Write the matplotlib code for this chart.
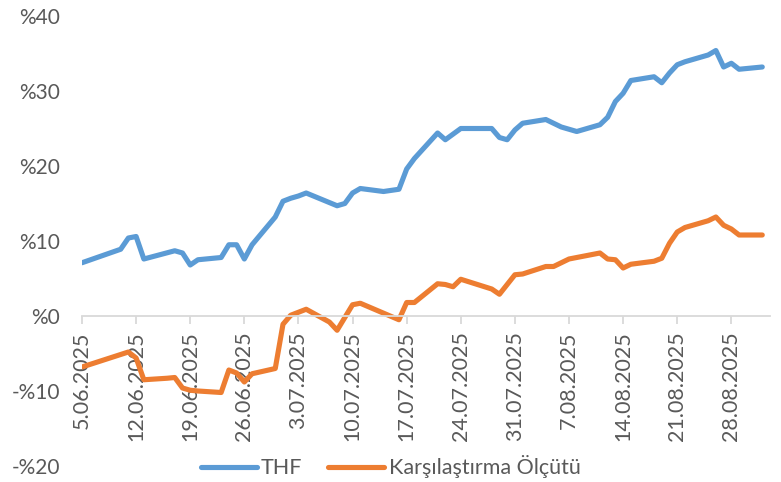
import matplotlib
matplotlib.use("Agg")
import matplotlib.pyplot as plt
import pandas as pd

# THF fund vs benchmark, cumulative return (%)
thf_dates = ["2025-06-05", "2025-06-10", "2025-06-11", "2025-06-12", "2025-06-13",
             "2025-06-17", "2025-06-18", "2025-06-19", "2025-06-20", "2025-06-23",
             "2025-06-24", "2025-06-25", "2025-06-26", "2025-06-27", "2025-06-30",
             "2025-07-01", "2025-07-02", "2025-07-03", "2025-07-04", "2025-07-08",
             "2025-07-09", "2025-07-10", "2025-07-11", "2025-07-14", "2025-07-16",
             "2025-07-17", "2025-07-18", "2025-07-21", "2025-07-22", "2025-07-24",
             "2025-07-28", "2025-07-29", "2025-07-30", "2025-07-31", "2025-08-01",
             "2025-08-04", "2025-08-06", "2025-08-08", "2025-08-11", "2025-08-12",
             "2025-08-13", "2025-08-14", "2025-08-15", "2025-08-18", "2025-08-19",
             "2025-08-20", "2025-08-21", "2025-08-22", "2025-08-25", "2025-08-26",
             "2025-08-27", "2025-08-28", "2025-08-29", "2025-09-01"]
thf_values = [7.1, 8.9, 10.4, 10.6, 7.6,
              8.7, 8.4, 6.8, 7.5, 7.8,
              9.5, 9.5, 7.6, 9.5, 13.2,
              15.3, 15.7, 16.0, 16.4, 14.7,
              15.0, 16.4, 17.0, 16.6, 16.9,
              19.6, 21.0, 24.4, 23.5, 25.0,
              25.0, 23.8, 23.5, 24.8, 25.7,
              26.2, 25.2, 24.6, 25.5, 26.5,
              28.6, 29.7, 31.4, 31.9, 31.1,
              32.4, 33.5, 33.9, 34.8, 35.4,
              33.2, 33.7, 32.9, 33.2]

bench_dates = ["2025-06-05", "2025-06-11", "2025-06-12", "2025-06-13", "2025-06-16",
               "2025-06-17", "2025-06-18", "2025-06-19", "2025-06-20", "2025-06-23",
               "2025-06-24", "2025-06-25", "2025-06-26", "2025-06-27", "2025-06-30",
               "2025-07-01", "2025-07-02", "2025-07-04", "2025-07-07", "2025-07-08",
               "2025-07-10", "2025-07-11", "2025-07-16", "2025-07-17", "2025-07-18",
               "2025-07-21", "2025-07-22", "2025-07-23", "2025-07-24", "2025-07-28",
               "2025-07-29", "2025-07-30", "2025-07-31", "2025-08-01", "2025-08-04",
               "2025-08-05", "2025-08-07", "2025-08-11", "2025-08-12", "2025-08-13",
               "2025-08-14", "2025-08-15", "2025-08-18", "2025-08-19", "2025-08-20",
               "2025-08-21", "2025-08-22", "2025-08-25", "2025-08-26", "2025-08-27",
               "2025-08-28", "2025-08-29", "2025-09-01"]
bench_values = [-6.8, -4.8, -5.6, -8.5, -8.3,
                -8.2, -9.6, -9.9, -10.0, -10.2,
                -7.2, -7.6, -8.8, -7.7, -7.0,
                -1.1, 0.1, 0.9, -0.8, -1.9,
                1.5, 1.7, -0.5, 1.8, 1.8,
                4.3, 4.2, 3.9, 4.9, 3.6,
                2.9, 4.2, 5.5, 5.6, 6.6,
                6.6, 7.6, 8.4, 7.6, 7.5,
                6.4, 6.9, 7.3, 7.7, 9.7,
                11.2, 11.8, 12.7, 13.2, 12.1,
                11.6, 10.8, 10.8]

tick_labels = ["5.06.2025", "12.06.2025", "19.06.2025", "26.06.2025", "3.07.2025",
               "10.07.2025", "17.07.2025", "24.07.2025", "31.07.2025", "7.08.2025",
               "14.08.2025", "21.08.2025", "28.08.2025"]
y_ticks = [-20, -10, 0, 10, 20, 30, 40]
y_labels = ["-%20", "-%10", "%0", "%10", "%20", "%30", "%40"]

plt.rcParams['font.family'] = ['Lato', 'DejaVu Sans']
text_color = '#595959'
grid_color = '#D9D9D9'

fig = plt.figure(figsize=(7.81, 4.82), dpi=100)
ax = fig.add_axes([82 / 781, 16 / 482, 688 / 781, 450 / 482])

line_thf, = ax.plot(pd.to_datetime(thf_dates), thf_values, color='#5B9BD5', lw=3.7,
                    solid_joinstyle='round', solid_capstyle='round', label='THF')
line_bench, = ax.plot(pd.to_datetime(bench_dates), bench_values, color='#ED7D31', lw=3.7,
                      solid_joinstyle='round', solid_capstyle='round',
                      label='Karşılaştırma Ölçütü')

# axis line sits at y = 0; set this before the tick labels (it resets them)
for side in ['top', 'right', 'left']:
    ax.spines[side].set_visible(False)
ax.spines['bottom'].set_position(('data', 0))
ax.spines['bottom'].set_color(grid_color)
ax.spines['bottom'].set_linewidth(1.3)

ax.set_xlim(pd.Timestamp("2025-06-05"), pd.Timestamp("2025-09-02"))
ax.set_ylim(-20, 40)

tick_pos = pd.date_range("2025-06-05", periods=len(tick_labels), freq="7D")
ax.set_xticks(tick_pos)
ax.set_xticklabels(tick_labels, rotation=90, fontsize=15.5, color=text_color)
ax.set_yticks(y_ticks)
ax.set_yticklabels(y_labels, fontsize=15, color=text_color)

ax.tick_params(axis='x', direction='out', length=6, width=1.3, color=grid_color, pad=5)
ax.tick_params(axis='y', length=0, pad=16)

fig.legend(handles=[line_thf, line_bench], loc='center', bbox_to_anchor=(0.5, 1 - 467 / 482),
           ncol=2, frameon=False, fontsize=15.5, handlelength=2.6, handletextpad=0.2,
           columnspacing=1.2, labelcolor=text_color, borderaxespad=0)

fig.savefig('out.png', dpi=100)
